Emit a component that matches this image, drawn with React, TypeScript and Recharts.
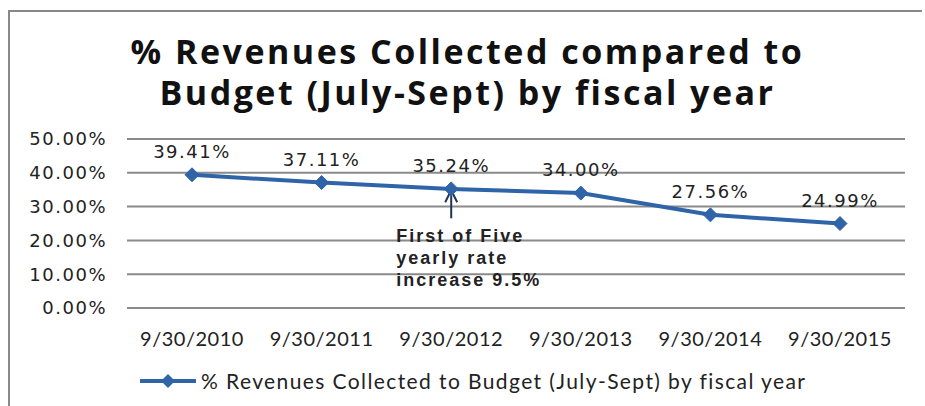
import React from 'react'
import { LineChart, Line, XAxis, YAxis, CartesianGrid, LabelList, ReferenceDot, Legend } from 'recharts'

const categories = ['9/30/2010', '9/30/2011', '9/30/2012', '9/30/2013', '9/30/2014', '9/30/2015']
const collected = [39.41, 37.11, 35.24, 34.0, 27.56, 24.99]
const yTicks = [0, 10, 20, 30, 40, 50]
const seriesName = '% Revenues Collected to Budget (July-Sept) by fiscal year'
const noteLines = ['First of Five', 'yearly rate', 'increase 9.5%']

const data = categories.map((date, i) => ({ date, value: collected[i] }))

const BLUE = '#2f64a8'

const Diamond = (props: any) => {
  const { cx, cy } = props
  if (cx == null || cy == null) return null
  const r = 7
  return <path d={`M${cx},${cy - r}L${cx + r},${cy}L${cx},${cy + r}L${cx - r},${cy}Z`} fill={BLUE} stroke={BLUE} />
}

const Note = (props: any) => {
  const { cx, cy } = props
  if (cx == null || cy == null) return null
  return (
    <g>
      <line x1={cx} y1={cy - 40} x2={cx} y2={cy - 12} stroke="#1f3550" strokeWidth={2} />
      <path d={`M${cx - 6},${cy - 28}L${cx},${cy - 40}L${cx + 6},${cy - 28}`} fill="none" stroke="#1f3550" strokeWidth={2} />
      {noteLines.map((t, i) => (
        <text
          key={t}
          x={cx - 55}
          y={cy + 12 + i * 22}
          fontFamily="Liberation Sans, Arial"
          fontWeight="bold"
          fontSize={18}
          letterSpacing={2}
          fill="#222"
        >
          {t}
        </text>
      ))}
    </g>
  )
}

const LegendContent = () => (
  <div style={{ display: 'flex', alignItems: 'center', paddingLeft: 140 }}>
    <svg width={56} height={16}>
      <line x1={0} y1={8} x2={56} y2={8} stroke={BLUE} strokeWidth={4} />
      <path d="M28,1L35,8L28,15L21,8Z" fill={BLUE} />
    </svg>
    <span style={{ fontFamily: 'Lato', fontSize: 21, letterSpacing: 1.4, color: '#222', marginLeft: 5 }}>{seriesName}</span>
  </div>
)

const titleStyle: React.CSSProperties = {
  position: 'absolute',
  left: 0,
  width: 935,
  textAlign: 'center',
  fontFamily: 'Open Sans',
  fontWeight: 'bold',
  fontSize: 34,
  letterSpacing: 2.5,
  lineHeight: '40px',
  color: '#111',
  whiteSpace: 'nowrap',
}

export default function App() {
  return (
    <div style={{ position: 'absolute', left: 0, top: 0, width: 925, height: 406, background: '#fff', overflow: 'hidden' }}>
      <div style={{ position: 'absolute', left: 8, top: 10, width: 912, height: 400, borderLeft: '2px solid #888', borderTop: '2px solid #888' }} />
      <div style={{ ...titleStyle, top: 31 }}>% Revenues Collected compared to</div>
      <div style={{ ...titleStyle, top: 72 }}>Budget (July-Sept) by fiscal year</div>
      <LineChart width={925} height={406} data={data} margin={{ top: 139, right: 20, bottom: 28, left: 17 }}>
        <CartesianGrid vertical={false} stroke="#8a8a8a" strokeWidth={2} />
        <XAxis
          dataKey="date"
          axisLine={false}
          tickLine={false}
          padding={{ left: 65, right: 65 }}
          tick={{ fontFamily: 'Lato', fontSize: 20, fill: '#222', letterSpacing: 0.5 }}
          dy={16}
          height={40}
        />
        <YAxis
          domain={[0, 50]}
          ticks={yTicks}
          axisLine={false}
          tickLine={false}
          width={110}
          tickFormatter={(v: number) => `${v.toFixed(2)}%`}
          tick={{ fontFamily: 'DejaVu Sans', fontSize: 18, fill: '#222', letterSpacing: 1.5 }}
          dx={-12}
        />
        <Legend
          verticalAlign="bottom"
          height={30}
          content={<LegendContent />}
          wrapperStyle={{ top: 368, left: 0, width: 925 }}
        />
        <Line
          dataKey="value"
          name={seriesName}
          stroke={BLUE}
          strokeWidth={4}
          dot={<Diamond />}
          activeDot={false}
          isAnimationActive={false}
        >
          <LabelList
            dataKey="value"
            position="top"
            offset={17}
            formatter={(v: number) => `${v.toFixed(2)}%`}
            style={{ fontFamily: 'DejaVu Sans', fontSize: 18, fill: '#222', letterSpacing: 1.5 }}
          />
        </Line>
        <ReferenceDot x="9/30/2012" y={23} r={0} shape={<Note />} />
      </LineChart>
    </div>
  )
}
